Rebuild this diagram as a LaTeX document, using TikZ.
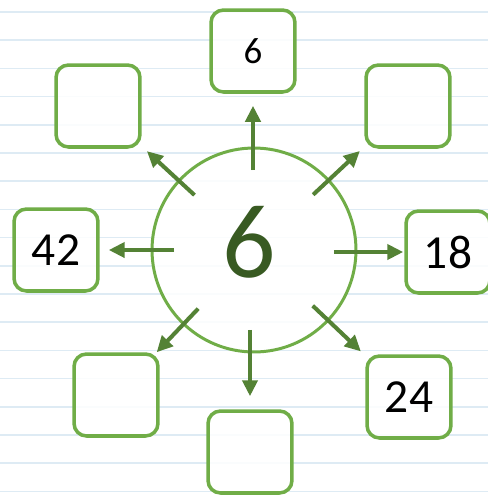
\documentclass[tikz,border=0pt]{standalone}
\usepackage{fontspec}
\setmainfont{Carlito}
\usetikzlibrary{arrows.meta,calc}
\definecolor{boxgreen}{RGB}{112,173,71}
\definecolor{arrowgreen}{RGB}{84,130,53}
\definecolor{darkgreen}{RGB}{56,90,34}
\definecolor{ruleblue}{RGB}{222,235,244}

\begin{document}
\begin{tikzpicture}[x=0.02cm,y=-0.02cm,>={Triangle[length=0.32cm,width=0.3cm]},
    answer/.style={draw=boxgreen,line width=2pt,fill=white,fill opacity=0.85,text opacity=1,
      rounded corners=0.25cm,minimum width=1.68cm,minimum height=1.64cm,inner sep=0pt,
      font=\fontsize{27}{27}\selectfont},
    link/.style={->,draw=arrowgreen,fill=arrowgreen,line width=2.3pt}]
  \useasboundingbox (0,0) rectangle (488,495);
  \fill[white] (0,0) rectangle (488,495);
  % lined paper
  \foreach \y in {0,...,17}
    \draw[ruleblue,line width=1pt] (0,12+28.2*\y) -- (488,12+28.2*\y);

  \node[circle,draw=boxgreen,line width=1.7pt,fill=white,fill opacity=0.85,
    minimum size=4.08cm,inner sep=0pt] (hub) at (254,250) {};
  \node[text=darkgreen,font=\fontsize{60}{60}\selectfont,inner sep=0pt] (num) at (249,242) {6};

  \node[answer] (boxn) at (253,51) {\fontsize{21}{21}\selectfont 6};
  \node[answer] (boxne) at (408,106) {};
  \node[answer] (boxe) at (448,252) {18};
  \node[answer] (boxse) at (409,397) {24};
  \node[answer] (boxs) at (250,452) {};
  \node[answer] (boxsw) at (116,395) {};
  \node[answer] (boxw) at (56,250) {42};
  \node[answer] (boxnw) at (98,106) {};

  % straight arrows up, down, left, right
  \foreach \b/\s in {boxn/0.24,boxs/0.26}
    \draw[link,shorten <=1.6cm,shorten >=\s cm] (hub.center -| \b) -- (\b);
  \foreach \b/\s in {boxe/0.02,boxw/0.18}
    \draw[link,shorten <=1.6cm,shorten >=\s cm] (hub.center |- \b) -- (\b);
  % slanted arrows
  \foreach \b/\s in {boxne/0.12,boxse/0.12,boxsw/0,boxnw/0.14}
    \draw[link,shorten <=1.62cm,shorten >=\s cm] (hub.center) -- (\b);
\end{tikzpicture}
\end{document}
